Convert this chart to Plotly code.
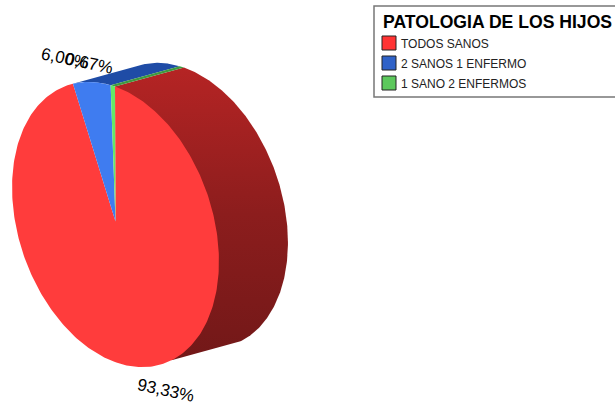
import numpy as np
import plotly.graph_objects as go

legend_title = "PATOLOGIA DE LOS HIJOS"
categories = ["TODOS SANOS", "2 SANOS 1 ENFERMO", "1 SANO 2 ENFERMOS"]
values = [93.33, 6.00, 0.67]
front_colors = ["#ff3c3c", "#3f7cf0", "#66e866"]
side_colors = ["#a82222", "#1f4ca6", "#3f9a3f"]
legend_colors = ["#ff3333", "#2f62c8", "#5cc85c"]

# Pixel-like geometry of the tilted 3D pie
CX, CY, RX, RY, MX, KY = 115.5, 224.5, 102.5, 141.5, 14, 18
DX, DY = 69, -19
START = np.radians(7.5)
TANGENT = np.radians(155)


def ell(t, dx=0, dy=0):
    return (CX + RX * np.sin(t) - MX * np.cos(t) + dx,
            CY - RY * np.cos(t) + KY * np.sin(t) + dy)


fracs = np.cumsum([0] + values) / sum(values) * 2 * np.pi
bounds = START + fracs
fig = go.Figure()

# Side wall (red): back ellipse arc from the top of the pie, clockwise to the tangent at the bottom
ts = np.linspace(START, TANGENT, 200)
bx, by = ell(ts, DX, DY)
fx, fy = ell(np.array([TANGENT, START]))
fig.add_trace(go.Scatter(
    x=np.r_[bx, fx], y=np.r_[by, fy], mode="lines", line=dict(width=0),
    fill="toself", hoverinfo="skip", showlegend=False,
    fillgradient=dict(type="vertical",
                      colorscale=[[0, "#721818"], [0.5, "#8c1d1d"], [1, "#b52424"]])))

# Side walls of the small slices (visible over the top edge)
for i in (1, 2):
    ts = np.linspace(bounds[i], bounds[i + 1], 60)
    fx, fy = ell(ts)
    bx, by = ell(ts[::-1], DX, DY)
    fig.add_trace(go.Scatter(
        x=np.r_[fx, bx], y=np.r_[fy, by], mode="lines", line=dict(width=0),
        fill="toself", fillcolor=side_colors[i], hoverinfo="skip", showlegend=False))

# Front faces
for i, name in enumerate(categories):
    ts = np.linspace(bounds[i], bounds[i + 1], 300)
    x, y = ell(ts)
    fig.add_trace(go.Scatter(
        x=np.r_[CX, x, CX], y=np.r_[CY - 3, y, CY - 3], mode="lines", line=dict(width=0),
        fill="toself", fillcolor=front_colors[i], name=name, hoverinfo="name", showlegend=False))

# Percent labels
label_pos = [(166, 390, 12), (65, 58, 12), (89, 63, 12)]
for v, (lx, ly, ang) in zip(values, label_pos):
    fig.add_annotation(x=lx, y=ly, text=f"{v:.2f}%".replace(".", ","), textangle=ang,
                       showarrow=False, font=dict(family="Liberation Sans", size=17, color="#000"))

# Legend box
fig.add_shape(type="rect", x0=374, x1=640, y0=6, y1=97, line=dict(color="#777777", width=1.5),
              fillcolor="white")
fig.add_annotation(x=381, y=22, text=f"<b>{legend_title}</b>", xanchor="left", showarrow=False,
                   font=dict(family="Liberation Sans", size=17.6, color="#000"))
for name, col, y in zip(categories, legend_colors, (43, 63, 83)):
    fig.add_shape(type="rect", x0=382, x1=396, y0=y - 7, y1=y + 7, fillcolor=col,
                  line=dict(color="#222222", width=1))
    fig.add_annotation(x=398.5, y=y + 0.5, text=name, xanchor="left", showarrow=False,
                       font=dict(family="Liberation Sans", size=12, color="#222"))

fig.update_layout(
    width=615, height=407, margin=dict(l=0, r=0, t=0, b=0),
    paper_bgcolor="white", plot_bgcolor="white", showlegend=False,
    xaxis=dict(range=[0, 615], visible=False, fixedrange=True),
    yaxis=dict(range=[407, 0], visible=False, fixedrange=True),
)
fig.write_html("out.html", config=dict(displayModeBar=False),
               post_script="document.body.style.margin='0';document.documentElement.style.overflow='hidden';")
